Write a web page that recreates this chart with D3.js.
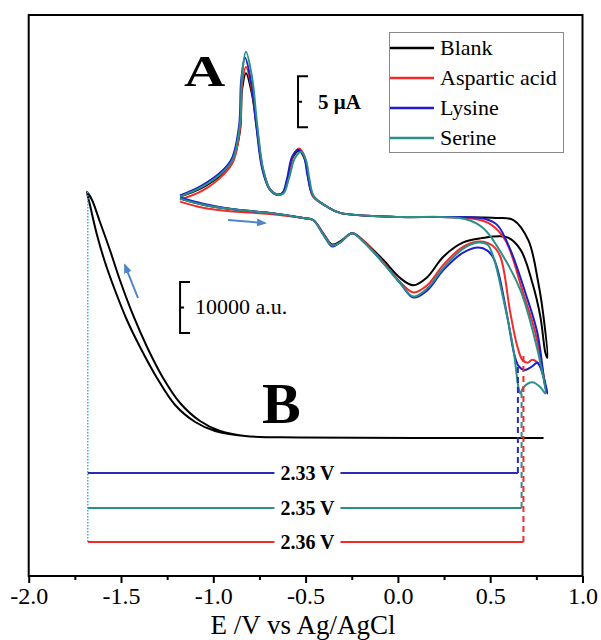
<!DOCTYPE html>
<html>
<head>
<meta charset="UTF-8">
<title>CV and ECL</title>
<style>
  body { margin: 0; background: #fff; }
  svg text { font-family: "Liberation Serif", "Times New Roman", serif; fill: #000; }
</style>
</head>
<body>
<svg id="chart" width="601" height="640"></svg>
<script src="https://d3js.org/d3.v7.min.js"></script>
<script>
// potential ticks (V)
const xTicks = [-2.0, -1.5, -1.0, -0.5, 0.0, 0.5, 1.0];
const minorTicks = [-1.75, -1.25, -0.75, -0.25, 0.25, 0.75];

const seriesNames = ["Blank", "Aspartic acid", "Lysine", "Serine"];
const seriesColors = ["#000000", "#f22a2a", "#1e1ec8", "#2b9089"];

// panel A: cyclic voltammograms, [E (V), i (uA)]
const blankA = [
  [-1.18, 1.6], [-1.056, 1.0], [-0.872, 0.5], [-0.693, 0.2], [-0.513, -0.3], [-0.459, -0.5],
  [-0.405, -1.8], [-0.356, -2.9], [-0.313, -2.6], [-0.248, -1.8], [-0.188, -2.5], [-0.08, -4.4],
  [0.013, -6.2], [0.083, -6.9], [0.159, -6.1], [0.246, -4.1], [0.354, -2.7], [0.447, -2.3],
  [0.593, -2.2], [0.664, -3.4], [0.729, -6.7], [0.772, -10.0], [0.799, -13.5], [0.81, -14.0],
  [0.789, -10.0], [0.761, -6.7], [0.707, -2.5], [0.626, -0.5], [0.528, -0.3], [0.23, -0.2],
  [0.013, -0.2], [-0.313, 0.2], [-0.383, 0.8], [-0.459, 1.8], [-0.486, 3.7], [-0.503, 5.4],
  [-0.535, 6.3], [-0.568, 5.7], [-0.595, 3.7], [-0.622, 2.2], [-0.655, 2.0], [-0.693, 2.5],
  [-0.731, 4.4], [-0.763, 8.3], [-0.79, 11.8], [-0.823, 13.9], [-0.844, 12.3], [-0.855, 8.3],
  [-0.893, 5.4], [-0.948, 4.1], [-1.056, 2.7], [-1.18, 1.8]
];
const aspA = [
  [-1.18, 1.3], [-1.056, 0.7], [-0.872, 0.3], [-0.693, 0.1], [-0.513, -0.3], [-0.459, -0.5],
  [-0.405, -1.8], [-0.356, -3.0], [-0.313, -2.7], [-0.248, -1.8], [-0.188, -2.5], [-0.08, -4.6],
  [0.013, -6.6], [0.083, -7.6], [0.159, -6.9], [0.246, -4.9], [0.354, -3.1], [0.447, -2.6],
  [0.512, -3.0], [0.555, -4.1], [0.609, -9.6], [0.647, -12.9], [0.674, -14.2], [0.702, -14.5],
  [0.729, -14.2], [0.772, -14.9], [0.799, -16.7],
  [0.789, -15.7], [0.745, -11.6], [0.674, -7.4], [0.583, -2.5], [0.501, -0.9], [0.42, -0.4],
  [0.23, -0.2], [0.013, -0.2], [-0.313, 0.2], [-0.383, 0.8], [-0.459, 1.8], [-0.486, 3.8],
  [-0.503, 5.6], [-0.535, 6.5], [-0.568, 5.8], [-0.595, 3.7], [-0.622, 2.2], [-0.655, 2.0],
  [-0.693, 2.5], [-0.731, 4.4], [-0.763, 8.5], [-0.79, 12.2], [-0.823, 14.5], [-0.844, 12.8],
  [-0.855, 8.5], [-0.893, 5.2], [-0.948, 3.9], [-1.056, 2.4], [-1.18, 1.5]
];
const lysA = [
  [-1.18, 1.7], [-1.056, 1.1], [-0.872, 0.5], [-0.693, 0.2], [-0.513, -0.3], [-0.459, -0.5],
  [-0.405, -1.9], [-0.356, -3.1], [-0.313, -2.7], [-0.248, -1.8], [-0.188, -2.6], [-0.08, -4.7],
  [0.013, -6.7], [0.083, -8.1], [0.159, -7.4], [0.246, -5.4], [0.354, -3.7], [0.436, -3.2],
  [0.485, -3.5], [0.517, -4.2], [0.545, -5.7], [0.593, -10.0], [0.631, -13.7], [0.653, -14.8],
  [0.686, -15.2], [0.723, -14.9], [0.756, -14.5], [0.789, -15.9], [0.81, -17.5],
  [0.799, -16.9], [0.756, -11.6], [0.69, -7.6], [0.609, -3.4], [0.539, -1.0], [0.474, -0.4],
  [0.23, -0.2], [0.013, -0.2], [-0.313, 0.2], [-0.383, 0.8], [-0.459, 1.9], [-0.49, 3.9],
  [-0.51, 5.8], [-0.54, 6.4], [-0.573, 5.7], [-0.6, 3.6], [-0.627, 2.1], [-0.66, 2.0],
  [-0.698, 2.6], [-0.736, 4.6], [-0.768, 8.9], [-0.795, 13.0], [-0.828, 15.4], [-0.849, 13.2],
  [-0.86, 8.8], [-0.898, 5.6], [-0.953, 4.3], [-1.06, 2.9], [-1.18, 1.9]
];
const serA = [
  [-1.18, 1.6], [-1.056, 1.0], [-0.872, 0.5], [-0.693, 0.2], [-0.513, -0.3], [-0.459, -0.5],
  [-0.405, -1.9], [-0.356, -3.0], [-0.313, -2.7], [-0.248, -1.8], [-0.188, -2.6], [-0.08, -4.7],
  [0.013, -6.7], [0.083, -8.0], [0.159, -7.2], [0.246, -5.2], [0.354, -3.3], [0.436, -2.7],
  [0.485, -2.9], [0.517, -4.1], [0.572, -8.3], [0.626, -13.2], [0.653, -16.9], [0.664, -17.5],
  [0.68, -16.9], [0.729, -16.4], [0.772, -16.9], [0.799, -17.5],
  [0.783, -15.5], [0.734, -11.6], [0.664, -7.4], [0.572, -4.1], [0.463, -1.3], [0.365, -0.4],
  [0.23, -0.2], [0.013, -0.2], [-0.313, 0.2], [-0.383, 0.8], [-0.455, 1.8], [-0.48, 3.6],
  [-0.497, 5.3], [-0.524, 6.2], [-0.557, 5.6], [-0.59, 3.6], [-0.62, 2.1], [-0.655, 2.0],
  [-0.693, 2.5], [-0.731, 4.6], [-0.763, 9.0], [-0.79, 13.5], [-0.823, 16.0], [-0.844, 13.8],
  [-0.855, 9.0], [-0.893, 5.5], [-0.948, 4.2], [-1.056, 2.8], [-1.18, 1.8]
];

// panel B: ECL intensity of the blank, [E (V), a.u.]
const blankB = [
  [0.789, 0], [-0.53, 100], [-0.828, 390], [-0.963, 1370], [-1.072, 3330], [-1.18, 6860],
  [-1.272, 11760], [-1.359, 17840], [-1.435, 24110], [-1.506, 30970], [-1.56, 36850],
  [-1.614, 42340], [-1.657, 46650], [-1.684, 48220],
  [-1.668, 45670], [-1.63, 39790], [-1.587, 34500], [-1.533, 29010], [-1.468, 23130],
  [-1.397, 17840], [-1.305, 11760], [-1.207, 6470], [-1.098, 3140], [-0.99, 1370],
  [-0.828, 390], [-0.53, 100], [0.789, 0]
];

// potential windows between ECL onset and CV feature
const ecOnset = -1.68;
const windowLabels = ["2.33 V", "2.35 V", "2.36 V"];
const windowValues = [2.33, 2.35, 2.36];
const windowColors = ["#2a2ab8", "#2b9089", "#f22a2a"];
const windowRows = [-6860, -13720, -20380];   // a.u., where each bracket sits
const windowTops = [-14.5, -17.5, -13.5];     // uA, where each dashed line meets the CV

const mLeft = 28.7, mRight = 582.5, mTop = 15, mBottom = 576;

const svg = d3.select("#chart");

const x = d3.scaleLinear().domain([-2, 1]).range([mLeft, mRight]);
const yA = d3.scaleLinear().domain([-35.4, 19.6]).range([mBottom, mTop]);
const yB = d3.scaleLinear().domain([-27050, 82910]).range([mBottom, mTop]);

const defs = svg.append("defs");
defs.append("marker")
  .attr("id", "arr")
  .attr("viewBox", "0 0 10 10")
  .attr("refX", 8).attr("refY", 5)
  .attr("markerWidth", 5).attr("markerHeight", 5)
  .attr("orient", "auto")
  .append("path")
  .attr("d", "M0,1 L10,5 L0,9 Z")
  .attr("fill", "#4f86c6");

// ECL curve
const lineB = d3.line().x(d => x(d[0])).y(d => yB(d[1])).curve(d3.curveCatmullRom.alpha(0.5));
svg.append("path")
  .attr("d", lineB(blankB))
  .attr("fill", "none")
  .attr("stroke", "#000")
  .attr("stroke-width", 2);

// CV curves
const lineA = d3.line().x(d => x(d[0])).y(d => yA(d[1])).curve(d3.curveCatmullRom.alpha(0.5));
const cvData = [blankA, aspA, lysA, serA];
cvData.forEach((s, i) => {
  svg.append("path")
    .attr("d", lineA(s))
    .attr("fill", "none")
    .attr("stroke", seriesColors[i])
    .attr("stroke-width", 2);
});

// onset marker
svg.append("line")
  .attr("x1", x(ecOnset)).attr("x2", x(ecOnset))
  .attr("y1", yB(48220)).attr("y2", yB(windowRows[2]))
  .attr("stroke", "#38aee0")
  .attr("stroke-width", 1.5)
  .attr("stroke-dasharray", "1.5,1.5");

// potential window brackets
windowValues.forEach((v, i) => {
  const xe = x(ecOnset + v);
  const yr = yB(windowRows[i]);
  svg.append("line")
    .attr("x1", x(ecOnset)).attr("x2", xe)
    .attr("y1", yr).attr("y2", yr)
    .attr("stroke", windowColors[i])
    .attr("stroke-width", 2);
  svg.append("line")
    .attr("x1", xe).attr("x2", xe)
    .attr("y1", yr).attr("y2", yA(windowTops[i]))
    .attr("stroke", windowColors[i])
    .attr("stroke-width", 2)
    .attr("stroke-dasharray", "6,4");
  const lx = x(-0.49);
  svg.append("rect")
    .attr("x", lx - 33).attr("y", yr - 8)
    .attr("width", 66).attr("height", 16)
    .attr("fill", "#fff");
  svg.append("text")
    .attr("x", lx).attr("y", yr + 7)
    .attr("text-anchor", "middle")
    .attr("font-size", 20)
    .attr("font-weight", "bold")
    .text(windowLabels[i]);
});

// scan direction arrows
svg.append("line")
  .attr("x1", x(-0.92)).attr("y1", yA(-0.5))
  .attr("x2", x(-0.72)).attr("y2", yA(-0.8))
  .attr("stroke", "#4f86c6").attr("stroke-width", 2)
  .attr("marker-end", "url(#arr)");
svg.append("line")
  .attr("x1", x(-1.408)).attr("y1", yB(27440))
  .attr("x2", x(-1.479)).attr("y2", yB(33900))
  .attr("stroke", "#4f86c6").attr("stroke-width", 2)
  .attr("marker-end", "url(#arr)");

// scale bars
function scaleBar(xv, y0, y1, label, weight, size, dx) {
  const xb = x(xv);
  svg.append("path")
    .attr("d", `M${xb + 10},${y0} H${xb} V${y1} H${xb + 10} M${xb},${(y0 + y1) / 2} h4`)
    .attr("fill", "none")
    .attr("stroke", "#000")
    .attr("stroke-width", 2);
  svg.append("text")
    .attr("x", xb + dx).attr("y", (y0 + y1) / 2 + 7)
    .attr("font-size", size)
    .attr("font-weight", weight)
    .text(label);
}
scaleBar(-0.541, yA(13.6), yA(8.6), "5 \u03bcA", "bold", 21, 20);
scaleBar(-1.18, yB(30580), yB(20580), "10000 a.u.", "normal", 22, 15);

// panel letters
svg.append("text")
  .attr("transform", "translate(184,86) scale(1.3,1)")
  .attr("font-size", 44)
  .attr("font-weight", "bold")
  .text("A");
svg.append("text")
  .attr("x", 262).attr("y", 423)
  .attr("font-size", 58)
  .attr("font-weight", "bold")
  .text("B");

// legend
const lg = svg.append("g");
lg.append("rect")
  .attr("x", 389.5).attr("y", 32.5)
  .attr("width", 174).attr("height", 120)
  .attr("fill", "#fff")
  .attr("stroke", "#888")
  .attr("stroke-width", 1);
seriesNames.forEach((n, i) => {
  const yy = 48 + i * 30;
  lg.append("line")
    .attr("x1", 390).attr("x2", 434)
    .attr("y1", yy).attr("y2", yy)
    .attr("stroke", seriesColors[i])
    .attr("stroke-width", 2.5);
  lg.append("text")
    .attr("x", 440).attr("y", yy + 7)
    .attr("font-size", 22)
    .text(n);
});

// x axis
const axisMajor = d3.axisBottom(x).tickValues(xTicks).tickSize(7).tickPadding(4)
  .tickFormat(d => d.toFixed(1));
const axisMinor = d3.axisBottom(x).tickValues(minorTicks).tickSize(4).tickFormat("");
const gx = svg.append("g").attr("transform", `translate(0,${mBottom})`).call(axisMajor);
const gm = svg.append("g").attr("transform", `translate(0,${mBottom})`).call(axisMinor);
[gx, gm].forEach(g => {
  g.select(".domain").remove();
  g.selectAll(".tick line").attr("stroke", "#000").attr("stroke-width", 2);
});
gx.selectAll(".tick text")
  .attr("font-family", "Liberation Serif, serif")
  .attr("font-size", 24)
  .attr("fill", "#000");

// frame
svg.append("rect")
  .attr("x", mLeft).attr("y", mTop)
  .attr("width", mRight - mLeft).attr("height", mBottom - mTop)
  .attr("fill", "none")
  .attr("stroke", "#000")
  .attr("stroke-width", 2);

svg.append("text")
  .attr("x", 303).attr("y", 634)
  .attr("text-anchor", "middle")
  .attr("font-size", 27)
  .text("E /V vs Ag/AgCl");
</script>
</body>
</html>
